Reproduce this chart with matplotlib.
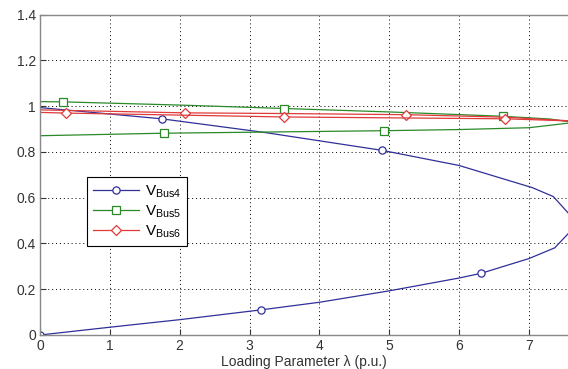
import matplotlib
matplotlib.use("Agg")
import matplotlib.pyplot as plt

plt.rcParams['font.family'] = ['Liberation Sans', 'DejaVu Sans']
plt.rcParams['mathtext.default'] = 'regular'

# Bus 4 (blue, circles)
bus4_low_lam = [0, 1, 2, 3.17, 4, 5, 6, 6.32, 7, 7.37, 7.7]
bus4_low_v = [0.0, 0.034, 0.067, 0.110, 0.143, 0.193, 0.249, 0.270, 0.334, 0.381, 0.487]
bus4_low_marks = [0, 3, 7]
bus4_up_lam = [0, 1.74, 3.2, 4.9, 6.0, 7.05, 7.35, 7.7]
bus4_up_v = [0.994, 0.945, 0.886, 0.807, 0.741, 0.644, 0.605, 0.487]
bus4_up_marks = [1, 3]

# Bus 5 (green, squares)
bus5_up_lam = [0, 0.33, 2, 3.5, 5, 6.63, 7.3, 7.65]
bus5_up_v = [1.02, 1.019, 1.005, 0.99, 0.975, 0.956, 0.944, 0.929]
bus5_up_marks = [1, 3, 5]
bus5_low_lam = [0, 1.77, 3.5, 4.92, 6, 7, 7.65]
bus5_low_v = [0.871, 0.882, 0.888, 0.893, 0.898, 0.906, 0.929]
bus5_low_marks = [1, 3]

# Bus 6 (red, diamonds)
bus6_up_lam = [0, 2.07, 3.5, 5.24, 6.66, 7.65]
bus6_up_v = [0.984, 0.971, 0.968, 0.963, 0.952, 0.935]
bus6_up_marks = [1, 3]
bus6_low_lam = [0, 0.37, 3.5, 6.66, 7.65]
bus6_low_v = [0.973, 0.970, 0.953, 0.945, 0.935]
bus6_low_marks = [1, 2, 3]

labels = ['V$_{Bus4}$', 'V$_{Bus5}$', 'V$_{Bus6}$']
x_ticks = [0, 1, 2, 3, 4, 5, 6, 7]
y_ticks = [0, 0.2, 0.4, 0.6, 0.8, 1.0, 1.2, 1.4]
y_tick_labels = ['0', '0.2', '0.4', '0.6', '0.8', '1', '1.2', '1.4']

fig = plt.figure(figsize=(5.68, 3.69), dpi=100)
ax = fig.add_axes([40/568, 34/369, 1 - 40/568, 320.3/369])

blue = '#30309a'
green = '#2a8a2a'
red = '#e03a3a'

def draw(lam, v, marks, color, marker, label=None):
    ax.plot(lam, v, color=color, lw=0.9, marker=marker, markevery=marks,
            markersize=5.2 if marker != 'D' else 4.6, markerfacecolor='white',
            markeredgecolor=color, markeredgewidth=0.9, label=label, clip_on=True)

draw(bus4_low_lam, bus4_low_v, bus4_low_marks, blue, 'o', labels[0])
draw(bus4_up_lam, bus4_up_v, bus4_up_marks, blue, 'o')
draw(bus5_up_lam, bus5_up_v, bus5_up_marks, green, 's', labels[1])
draw(bus5_low_lam, bus5_low_v, bus5_low_marks, green, 's')
draw(bus6_up_lam, bus6_up_v, bus6_up_marks, red, 'D', labels[2])
draw(bus6_low_lam, bus6_low_v, bus6_low_marks, red, 'D')

ax.set_xlim(0, 7.56)
ax.set_ylim(0, 1.4)
ax.set_xticks(x_ticks)
ax.set_yticks(y_ticks)
ax.set_yticklabels(y_tick_labels)
ax.tick_params(direction='in', length=4, labelsize=10, colors='#333333', pad=3)
ax.grid(True, color='black', linestyle=(0, (1, 3)), linewidth=0.7)
for s in ['left', 'bottom', 'top']:
    ax.spines[s].set_color('#888888')
    ax.spines[s].set_linewidth(1.0)
ax.spines['right'].set_visible(False)

ax.set_xlabel('Loading Parameter λ (p.u.)', fontsize=10, color='#333333', labelpad=1)

leg = ax.legend(loc='upper left', bbox_to_anchor=(47/528, (335 - 177)/320.3),
                borderaxespad=0, fancybox=False, framealpha=1, edgecolor='black',
                fontsize=11, handlelength=3.0, labelspacing=0.25, borderpad=0.4,
                handletextpad=0.4)
leg.get_frame().set_linewidth(0.8)

fig.savefig('out.png', dpi=100)
